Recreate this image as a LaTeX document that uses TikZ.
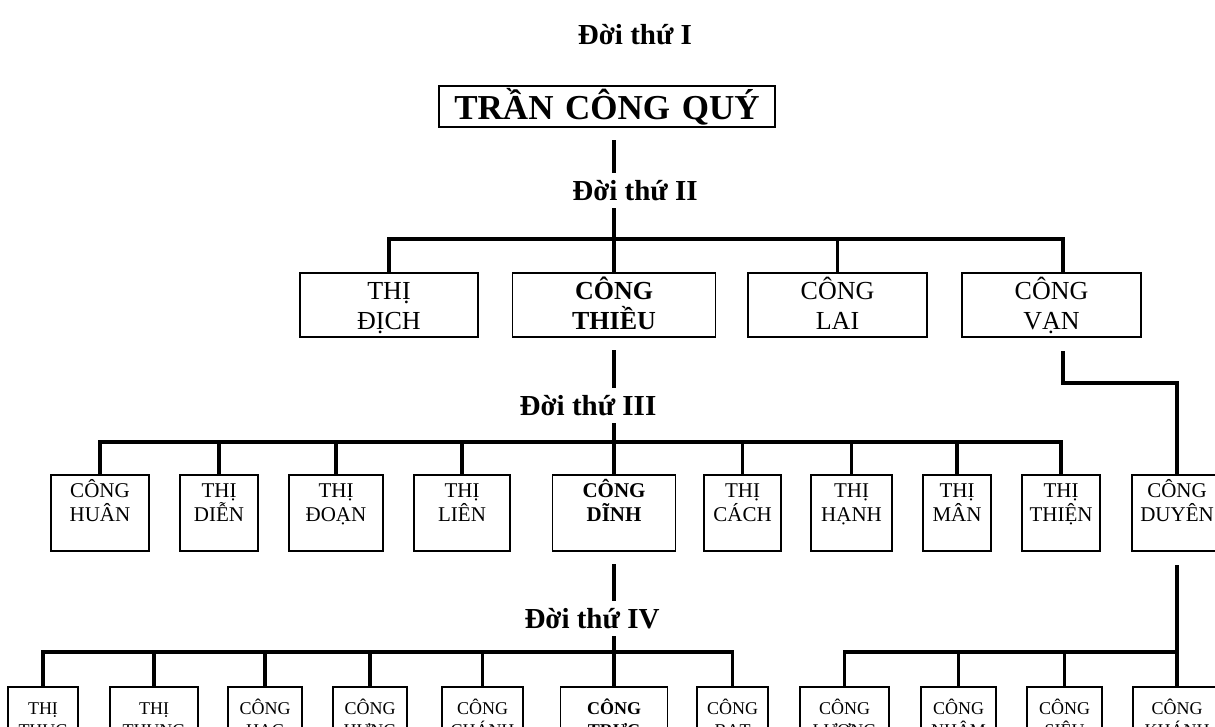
\documentclass[tikz,border=0pt]{standalone}
\usepackage{fontspec}
\setmainfont{Liberation Serif}
\usepackage{tikz}

\tikzset{
  link/.style={line width=3.6pt},
  person/.style={draw, line width=1.5pt, align=center, inner xsep=0pt, inner ysep=0pt, outer sep=0pt, anchor=north},
  founder/.style={person, font=\fontsize{35}{40}\selectfont\bfseries, text height=33pt, text depth=8pt},
  gentwo/.style={person, font=\fontsize{26}{30}\selectfont, text height=26pt, text depth=38pt},
  genthree/.style={person, font=\fontsize{21}{24}\selectfont, text height=22pt, text depth=54pt},
  genfour/.style={person, font=\fontsize{18}{22}\selectfont, text height=27pt, text depth=60pt},
  genlabel/.style={font=\fontsize{29}{32}\selectfont\bfseries, inner xsep=0pt, inner ysep=8pt, text height=19pt, text depth=0pt, anchor=base},
}

\begin{document}
\begin{tikzpicture}[x=1pt,y=-1pt]
  \useasboundingbox (0,0) rectangle (1215,726);
  \clip (0,0) rectangle (1215,726);

  % generation labels
  \node[genlabel] (lbl1) at (635,44) {Đời thứ I};
  \node[genlabel] (lbl2) at (635,200) {Đời thứ II};
  \node[genlabel] (lbl3) at (588,415) {Đời thứ III};
  \node[genlabel] (lbl4) at (592,628) {Đời thứ IV};

  % I
  \node[founder, text width=336pt] (root) at (607,86) {TRẦN CÔNG QUÝ};

  % II
  \node[gentwo, text width=178pt] (dich) at (389,273) {THỊ\\ĐỊCH};
  \node[gentwo, text width=203pt] (thieu) at (614,273) {\bfseries CÔNG\\THIỀU};
  \node[gentwo, text width=179pt] (lai) at (837.5,273) {CÔNG\\LAI};
  \node[gentwo, text width=179pt] (van) at (1051.5,273) {CÔNG\\VẠN};

  % III
  \node[genthree, text width=98pt] (huan) at (100,475) {CÔNG\\HUÂN};
  \node[genthree, text width=78pt] (dien) at (219,475) {THỊ\\DIỄN};
  \node[genthree, text width=94pt] (doan) at (336,475) {THỊ\\ĐOẠN};
  \node[genthree, text width=96pt] (lien) at (462,475) {THỊ\\LIÊN};
  \node[genthree, text width=123pt] (dinh) at (614,475) {\bfseries CÔNG\\DĨNH};
  \node[genthree, text width=77pt] (cach) at (742.5,475) {THỊ\\CÁCH};
  \node[genthree, text width=81pt] (hanh) at (851.5,475) {THỊ\\HẠNH};
  \node[genthree, text width=68pt] (man) at (957,475) {THỊ\\MÂN};
  \node[genthree, text width=78pt] (thien) at (1061,475) {THỊ\\THIỆN};
  \node[genthree, text width=90pt] (duyen) at (1177,475) {CÔNG\\DUYÊN};

  % IV
  \node[genfour, text width=70pt] (thuc) at (43,687) {THỊ\\THỤC};
  \node[genfour, text width=88pt] (thung) at (154,687) {THỊ\\THUNG};
  \node[genfour, text width=74pt] (hac) at (265,687) {CÔNG\\HẠC};
  \node[genfour, text width=74pt] (hung) at (370,687) {CÔNG\\HƯNG};
  \node[genfour, text width=81pt] (chanh) at (482.5,687) {CÔNG\\CHÁNH};
  \node[genfour, text width=107pt] (truc) at (614,687) {\bfseries CÔNG\\TRỰC};
  \node[genfour, text width=71pt] (bat) at (732.5,687) {CÔNG\\BẠT};
  \node[genfour, text width=89pt] (luong) at (844.5,687) {CÔNG\\LƯƠNG};
  \node[genfour, text width=75pt] (nham) at (958.5,687) {CÔNG\\NHÂM};
  \node[genfour, text width=75pt] (sieu) at (1064.5,687) {CÔNG\\SIÊU};
  \node[genfour, text width=88pt] (khanh) at (1177,687) {CÔNG\\KHÁNH};

  \coordinate (bar2) at (614,239);
  \coordinate (bar3) at (614,442);
  \coordinate (bar4) at (614,652);

  % I -> II
  \draw[link, shorten <=13pt] (root.south -| thieu.north) -- (lbl2.north -| thieu.north);
  \draw[link] (lbl2.south -| thieu.north) -- (thieu.north);
  \draw[link] (dich.north) |- (bar2) -| ([xshift=11.5pt]van.north);
  \draw[link] (lai.north) -- (lai.north |- bar2);

  % II -> III
  \draw[link, shorten <=13pt] (thieu.south) -- (lbl3.north -| thieu.south);
  \draw[link] (lbl3.south -| dinh.north) -- (dinh.north);
  \draw[link] (huan.north) |- (bar3) -| (thien.north);
  \foreach \n in {dien,doan,lien,cach,hanh,man}
    \draw[link] (\n.north) -- (\n.north |- bar3);
  \draw[link, shorten <=14pt] ([xshift=11.5pt]van.south) -- ++(0,46) -| (duyen.north);

  % III -> IV
  \draw[link, shorten <=13pt] (dinh.south) -- (lbl4.north -| dinh.south);
  \draw[link] (lbl4.south -| truc.north) -- (truc.north);
  \draw[link] (thuc.north) |- (bar4) -| (bat.north);
  \foreach \n in {thung,hac,hung,chanh}
    \draw[link] (\n.north) -- (\n.north |- bar4);
  \draw[link, shorten <=14pt] (duyen.south) -- (khanh.north);
  \draw[link] (luong.north) |- (khanh.north |- bar4);
  \foreach \n in {nham,sieu}
    \draw[link] (\n.north) -- (\n.north |- bar4);
\end{tikzpicture}
\end{document}
